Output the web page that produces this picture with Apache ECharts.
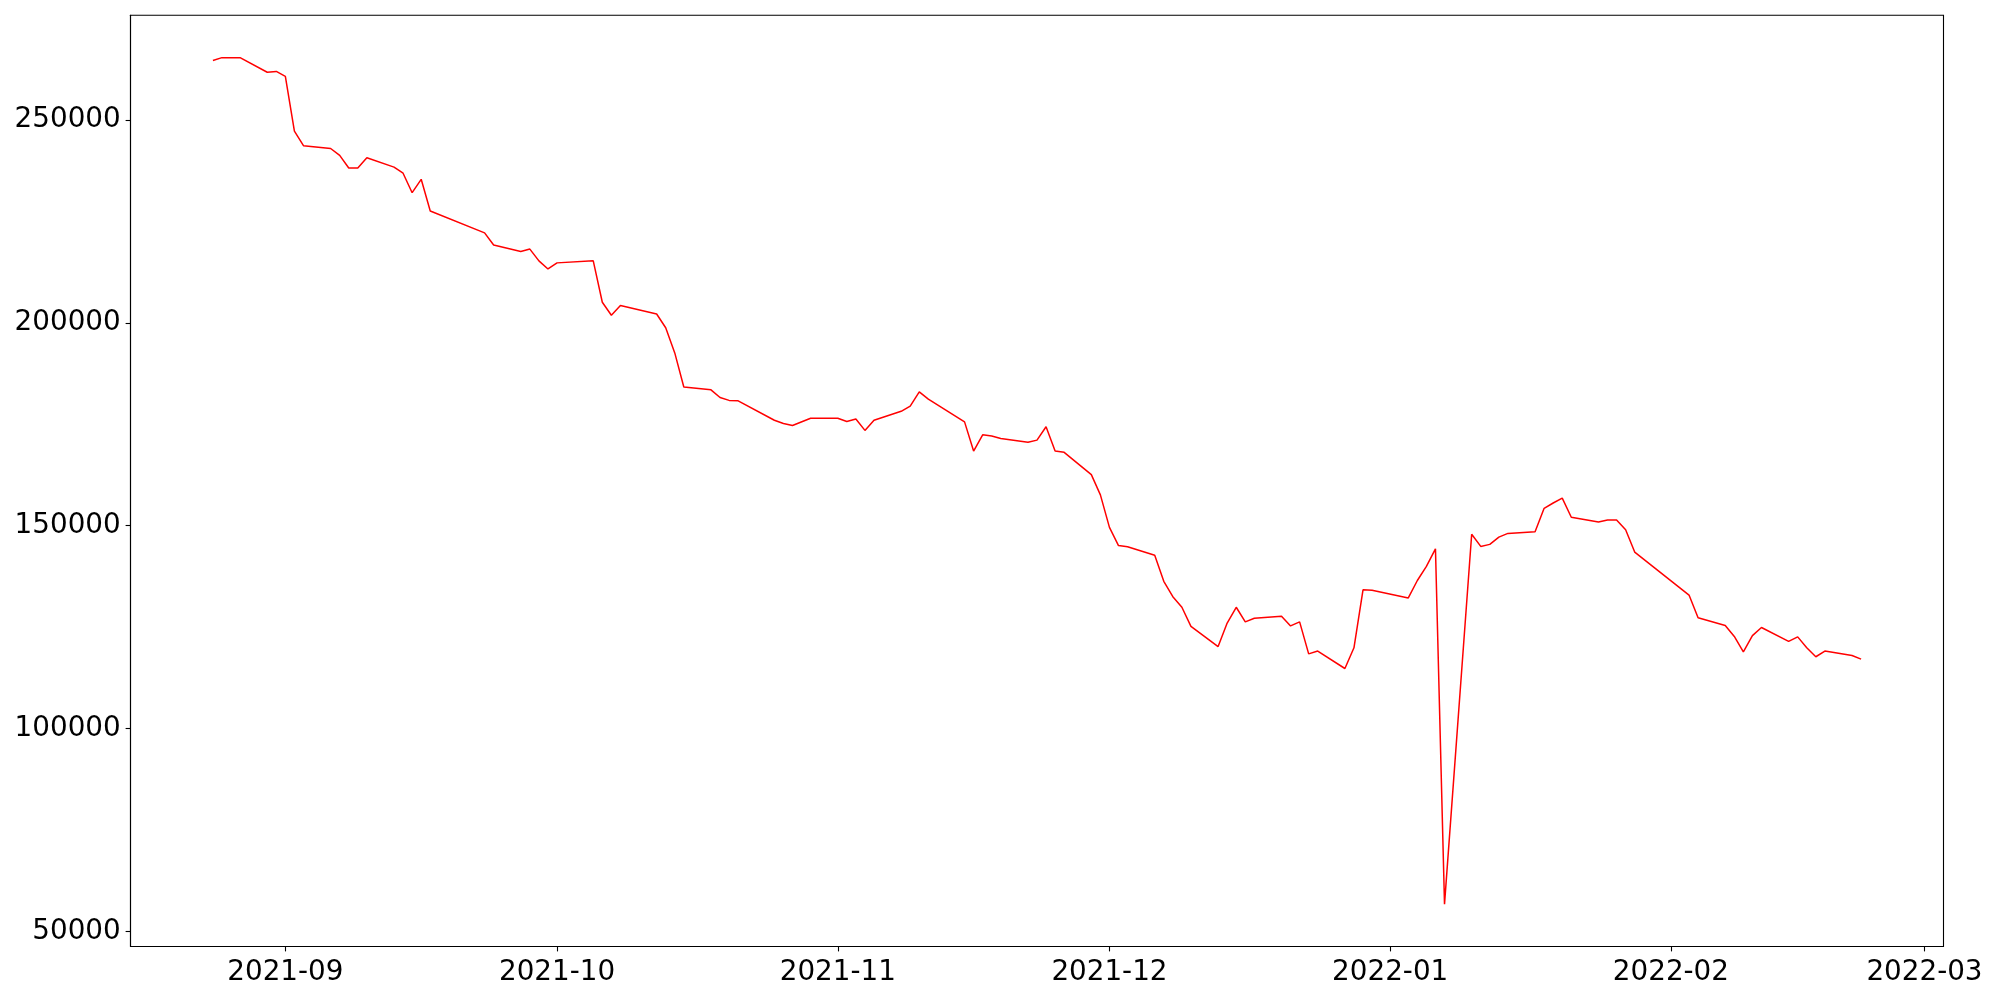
<!DOCTYPE html>
<html>
<head>
<meta charset="utf-8">
<script src="https://cdn.jsdelivr.net/npm/echarts@6/dist/echarts.min.js"></script>
<style>
html,body{margin:0;padding:0;background:#fff;}
#chart{width:2000px;height:1000px;}
</style>
</head>
<body>
<div id="chart"></div>
<script>
// ---- data ----
const dates = [
 '2021-08-24','2021-08-25','2021-08-26','2021-08-27','2021-08-30','2021-08-31',
 '2021-09-01','2021-09-02','2021-09-03','2021-09-06','2021-09-07','2021-09-08','2021-09-09','2021-09-10',
 '2021-09-13','2021-09-14','2021-09-15','2021-09-16','2021-09-17','2021-09-23','2021-09-24',
 '2021-09-27','2021-09-28','2021-09-29','2021-09-30','2021-10-01','2021-10-05','2021-10-06','2021-10-07','2021-10-08',
 '2021-10-12','2021-10-13','2021-10-14','2021-10-15','2021-10-18','2021-10-19','2021-10-20','2021-10-21',
 '2021-10-25','2021-10-26','2021-10-27','2021-10-29','2021-11-01','2021-11-02','2021-11-03','2021-11-04','2021-11-05',
 '2021-11-08','2021-11-09','2021-11-10','2021-11-11','2021-11-15','2021-11-16','2021-11-17','2021-11-18','2021-11-19',
 '2021-11-22','2021-11-23','2021-11-24','2021-11-25','2021-11-26','2021-11-29','2021-11-30','2021-12-01','2021-12-02','2021-12-03',
 '2021-12-06','2021-12-07','2021-12-08','2021-12-09','2021-12-10','2021-12-13','2021-12-14','2021-12-15','2021-12-16','2021-12-17',
 '2021-12-20','2021-12-21','2021-12-22','2021-12-23','2021-12-24','2021-12-27','2021-12-28','2021-12-29','2021-12-30',
 '2022-01-03','2022-01-04','2022-01-05','2022-01-06','2022-01-07','2022-01-10','2022-01-11','2022-01-12','2022-01-13','2022-01-14',
 '2022-01-17','2022-01-18','2022-01-19','2022-01-20','2022-01-21','2022-01-24','2022-01-25','2022-01-26','2022-01-27','2022-01-28',
 '2022-02-03','2022-02-04','2022-02-07','2022-02-08','2022-02-09','2022-02-10','2022-02-11',
 '2022-02-14','2022-02-15','2022-02-16','2022-02-17','2022-02-18','2022-02-21','2022-02-22'
];
const values = [
 264700,265400,265400,265400,261800,262000,
 260800,247300,243700,243000,241300,238200,238200,240700,
 238400,236900,232100,235400,227600,222200,219200,
 217600,218200,215300,213300,214800,215300,205100,201900,204300,
 202200,198800,192600,184200,183500,181600,180900,180800,
 176000,175200,174700,176500,176500,175700,176300,173500,176000,
 178200,179500,183000,181200,175600,168400,172400,172100,171500,
 170600,171100,174400,168400,168100,162600,157600,149600,145100,144800,
 142700,136300,132500,129900,125200,120200,126000,129900,126300,127200,
 127700,125300,126300,118400,119100,114800,119900,134200,134100,
 132200,136500,140000,144300,56700,147900,144900,145400,147200,148100,
 148500,154300,155600,156800,152100,150900,151400,151400,149000,143500,
 132900,127300,125400,122700,118900,122900,124900,
 121500,122600,119900,117700,119100,118000,117100
];
const xTickLabels = ['2021-09','2021-10','2021-11','2021-12','2022-01','2022-02','2022-03'];
const yTickValues = [50000,100000,150000,200000,250000];

// ---- build ----
function ts(s){ const p=s.split('-').map(Number); return Date.UTC(p[0],p[1]-1,p[2]||1); }
const times = dates.map(ts);
const seriesData = times.map((t,i)=>[t, values[i]]);
const xTicks = xTickLabels.map(ts);

const tMin = Math.min(...times), tMax = Math.max(...times);
const vMin = Math.min(...values), vMax = Math.max(...values);
const tPad = (tMax - tMin) * 0.05, vPad = (vMax - vMin) * 0.05;

const fontBase = {fontFamily:'DejaVu Sans', fontSize:27.8, color:'#000'};

const chart = echarts.init(document.getElementById('chart'), null, {renderer:'canvas'});
chart.setOption({
  animation:false,
  backgroundColor:'#fff',
  grid:{left:130.5, right:56.5, top:15.3, bottom:53.5, show:true, borderColor:'#000', borderWidth:1.1, containLabel:false},
  xAxis:{
    type:'value', min:tMin - tPad, max:tMax + tPad, scale:true,
    axisLine:{show:true, lineStyle:{color:'#000', width:1.1}},
    axisTick:{show:true, length:4.9, lineStyle:{color:'#000', width:1.1}, customValues:xTicks},
    axisLabel:Object.assign({}, fontBase, {
      margin:12, customValues:xTicks, showMinLabel:true, showMaxLabel:true,
      formatter:function(v){ const i = xTicks.indexOf(v); if (i >= 0) return xTickLabels[i];
        const d=new Date(v); return d.getUTCFullYear()+'-'+String(d.getUTCMonth()+1).padStart(2,'0'); }
    }),
    splitLine:{show:false}, minorTick:{show:false}
  },
  yAxis:{
    type:'value', min:vMin - vPad, max:vMax + vPad, scale:true,
    axisLine:{show:true, lineStyle:{color:'#000', width:1.1}},
    axisTick:{show:true, length:4.9, lineStyle:{color:'#000', width:1.1}, customValues:yTickValues},
    axisLabel:Object.assign({}, fontBase, {margin:9.8, customValues:yTickValues, padding:[4,0,0,0],
      formatter:function(v){ return String(v); }}),
    splitLine:{show:false}
  },
  series:[{
    type:'line', data:seriesData, showSymbol:false, symbol:'none',
    lineStyle:{color:'#ff0000', width:1.5}, itemStyle:{color:'#ff0000'}
  }]
});
</script>
</body>
</html>
